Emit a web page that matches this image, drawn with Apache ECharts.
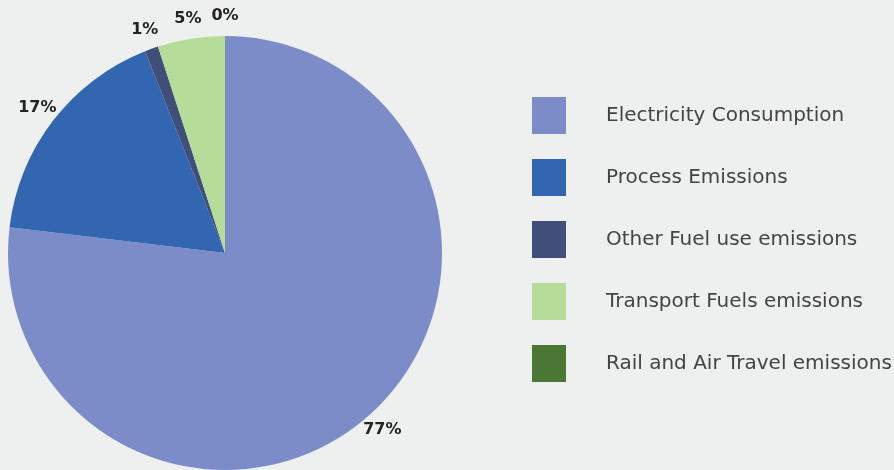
<!DOCTYPE html>
<html>
<head>
<meta charset="utf-8">
<script src="https://cdn.jsdelivr.net/npm/echarts@6/dist/echarts.min.js"></script>
<style>
html,body{margin:0;padding:0;background:#eeefef;}
#chart{width:894px;height:470px;}
</style>
</head>
<body>
<div id="chart"></div>
<script>
var categories = ['Electricity Consumption', 'Process Emissions', 'Other Fuel use emissions', 'Transport Fuels emissions', 'Rail and Air Travel emissions'];
var values = [76.9, 17.1, 1.0, 5.0, 0];
var colors = ['#7b8cc8', '#3366b1', '#404f79', '#b6dc9a', '#4a7834'];

var CX = 225, CY = 253, R = 217, LABEL_R = 237;
var total = values.reduce(function (a, b) { return a + b; }, 0);
var cum = [];
(function () { var s = 0; for (var i = 0; i < values.length; i++) { cum.push(s + values[i] / 2); s += values[i]; } })();

var chart = echarts.init(document.getElementById('chart'));
chart.setOption({
  backgroundColor: '#eeefef',
  animation: false,
  legend: {
    orient: 'vertical',
    left: 527,
    top: 92,
    itemWidth: 34,
    itemHeight: 37,
    itemGap: 25,
    icon: 'rect',
    data: categories,
    textStyle: { fontFamily: 'DejaVu Sans', fontSize: 20, color: '#444', padding: [0, 0, 0, 35] }
  },
  series: [{
    type: 'pie',
    center: [CX, CY],
    radius: R,
    startAngle: 90,
    clockwise: true,
    avoidLabelOverlap: false,
    label: {
      show: true,
      position: 'outside',
      formatter: function (p) { return Math.round(p.percent) + '%'; },
      fontFamily: 'DejaVu Sans',
      fontWeight: 'bold',
      fontSize: 16,
      color: '#222'
    },
    labelLine: { show: false },
    labelLayout: function (p) {
      var frac = cum[p.dataIndex] / total;
      var ang = Math.PI / 2 - frac * 2 * Math.PI;
      return {
        x: CX + LABEL_R * Math.cos(ang),
        y: CY - LABEL_R * Math.sin(ang),
        align: 'center',
        verticalAlign: 'middle'
      };
    },
    emphasis: { disabled: true },
    data: categories.map(function (c, i) {
      return { name: c, value: values[i], itemStyle: { color: colors[i] } };
    })
  }]
});
</script>
</body>
</html>
